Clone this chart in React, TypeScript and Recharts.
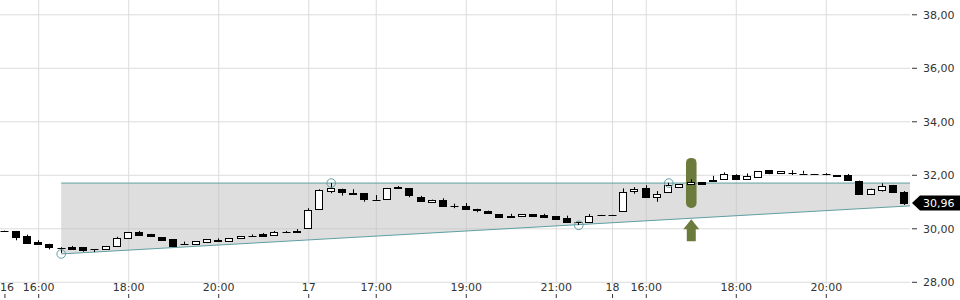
import {
  ComposedChart,
  Bar,
  Area,
  XAxis,
  YAxis,
  CartesianGrid,
  ReferenceArea,
  ReferenceDot,
} from 'recharts';

// 15-minute candles, one per slot (slot 0 = first visible candle)
const opens = [
  29.92, 29.92, 29.74, 29.52, 29.43, 29.27, 29.32, 29.31, 29.23, 29.23,
  29.35, 29.64, 29.88, 29.8, 29.68, 29.61, 29.44, 29.44, 29.52, 29.59,
  29.56, 29.64, 29.73, 29.79, 29.78, 29.88, 29.93, 30.02, 30.73, 31.4,
  31.49, 31.33, 31.33, 31.09, 31.1, 31.56, 31.51, 31.19, 30.99, 31.07,
  30.85, 30.86, 30.75, 30.68, 30.54, 30.49, 30.47, 30.55, 30.52, 30.48,
  30.39, 30.24, 30.25, 30.52, 30.52, 30.65, 31.4, 31.51, 31.2, 31.36,
  31.56, 31.66, 31.74, 31.83, 31.85, 32.0, 31.85, 31.93, 32.19, 32.09,
  32.09, 32.06, 32.04, 32.04, 32.01, 32.01, 31.8, 31.29, 31.45, 31.64,
  31.38,
];
const highs = [
  29.93, 29.92, 29.78, 29.57, 29.44, 29.31, 29.36, 29.32, 29.24, 29.36,
  29.7, 29.88, 29.92, 29.81, 29.69, 29.61, 29.52, 29.53, 29.61, 29.64,
  29.64, 29.73, 29.79, 29.84, 29.92, 29.92, 29.99, 30.77, 31.48, 31.71,
  31.5, 31.48, 31.33, 31.26, 31.51, 31.6, 31.52, 31.23, 31.09, 31.14,
  30.94, 30.96, 30.75, 30.68, 30.54, 30.56, 30.55, 30.55, 30.56, 30.48,
  30.49, 30.25, 30.55, 30.52, 30.52, 31.51, 31.56, 31.63, 31.41, 31.72,
  31.66, 31.85, 31.75, 31.98, 32.11, 32.04, 32.07, 32.16, 32.19, 32.15,
  32.19, 32.17, 32.05, 32.08, 32.01, 32.05, 31.8, 31.5, 31.7, 31.64,
  31.41,
];
const lows = [
  29.91, 29.57, 29.44, 29.4, 29.23, 29.1, 29.24, 29.14, 29.13, 29.22,
  29.35, 29.64, 29.76, 29.71, 29.56, 29.36, 29.43, 29.44, 29.52, 29.53,
  29.56, 29.64, 29.72, 29.73, 29.78, 29.87, 29.86, 30.02, 30.73, 31.33,
  31.24, 31.29, 31.01, 31.08, 31.1, 31.5, 31.18, 31.03, 30.99, 30.83,
  30.77, 30.73, 30.62, 30.58, 30.43, 30.43, 30.47, 30.47, 30.45, 30.36,
  30.25, 30.14, 30.25, 30.51, 30.51, 30.65, 31.31, 31.2, 31.01, 31.36,
  31.56, 31.66, 31.69, 31.76, 31.85, 31.87, 31.85, 31.93, 32.04, 32.09,
  32.01, 32.06, 32.03, 32.0, 31.96, 31.84, 31.29, 31.29, 31.39, 31.39,
  30.89,
];
const closes = [
  29.92, 29.68, 29.48, 29.42, 29.31, 29.27, 29.26, 29.21, 29.23, 29.35,
  29.64, 29.87, 29.77, 29.72, 29.57, 29.37, 29.44, 29.53, 29.61, 29.54,
  29.64, 29.73, 29.73, 29.74, 29.87, 29.88, 29.87, 30.69, 31.44, 31.54,
  31.36, 31.29, 31.1, 31.09, 31.51, 31.51, 31.26, 31.03, 31.09, 30.86,
  30.85, 30.73, 30.7, 30.58, 30.43, 30.43, 30.55, 30.47, 30.45, 30.36,
  30.25, 30.24, 30.49, 30.52, 30.52, 31.36, 31.49, 31.2, 31.3, 31.64,
  31.66, 31.76, 31.69, 31.78, 32.05, 31.87, 31.98, 32.16, 32.1, 32.15,
  32.09, 32.06, 32.04, 32.04, 31.96, 31.84, 31.29, 31.5, 31.61, 31.39,
  30.96,
];

const tickSlots = [0, 3, 11, 19, 27, 33, 41, 49, 54, 57, 65, 73];
const tickLabels = ['16', '16:00', '18:00', '20:00', '17', '17:00', '19:00', '21:00', '18', '16:00', '18:00', '20:00'];

const priceTicks = [28, 30, 32, 34, 36, 38];

// triangle pattern: its two boundary lines, from start slot to past the right edge
const triangleSlots = [5, 81];
const triangleLower = [29.06, 30.87];
const triangleUpper = [31.71, 31.71];

const pivotSlots = [5, 29, 51, 59];
const pivotPrices = [29.06, 31.71, 30.13, 31.71];

const signalSlot = 61;
const signalBand = [30.78, 32.65];
const signalArrowPrice = 29.95;

const X_DOMAIN = [-0.44, 80.44];
const Y_DOMAIN = [27.936, 38.553];

const TEAL = '#5f9fa3';
const OLIVE = '#6a7b3b';
const FONT = 'DejaVu Sans';

const rows: any[] = opens.map((o, i) => ({
  slot: i,
  open: o,
  high: highs[i],
  low: lows[i],
  close: closes[i],
}));
triangleSlots.forEach((s, k) => {
  let row = rows.find((r) => r.slot === s);
  if (!row) {
    row = { slot: s };
    rows.push(row);
  }
  row.tri = [triangleLower[k], triangleUpper[k]];
});

const fmt = (v: number) => v.toFixed(2).replace('.', ',');

function Candle(props: any) {
  const { x, y, width, height, payload } = props;
  if (!payload || payload.high == null) return null;
  const { open, high, low, close } = payload;
  const span = high - low;
  const toPx = (v: number) => (span > 0 ? y + ((high - v) / span) * height : y);
  const cx = Math.floor(x + width / 2) + 0.5;
  const wickTop = toPx(high);
  const wickBottom = toPx(low);
  const top = Math.round(toPx(Math.max(open, close))) + 0.5;
  const bottom = Math.round(toPx(Math.min(open, close))) + 0.5;
  const up = close > open;
  return (
    <g>
      <line x1={cx} x2={cx} y1={wickTop} y2={wickBottom} stroke="#000" strokeWidth={1} />
      {bottom - top < 1 ? (
        <line x1={cx - 4} x2={cx + 4} y1={top} y2={top} stroke="#000" strokeWidth={1} />
      ) : (
        <rect
          x={cx - 4}
          y={top}
          width={7}
          height={bottom - top}
          fill={up ? '#fff' : '#000'}
          stroke="#000"
          strokeWidth={1}
        />
      )}
    </g>
  );
}

function TimeTick(props: any) {
  const { x, y, payload } = props;
  const label = tickLabels[tickSlots.indexOf(payload.value)];
  // first label sits at the very edge; keep it inside the picture
  const tx = Math.max(x, 7);
  return (
    <g>
      <text x={tx} y={y + 7} textAnchor="middle" fontSize={11} fontFamily={FONT} fill="#333">
        {label}
      </text>
      <line x1={x} x2={x} y1={y + 10} y2={y + 14} stroke="#333" strokeWidth={1} />
    </g>
  );
}

function PriceTick(props: any) {
  const { x, y, payload } = props;
  return (
    <g>
      <line x1={x + 2} x2={x + 7} y1={y} y2={y} stroke="#333" strokeWidth={1} />
      <text x={x + 13} y={y + 4} fontSize={11} fontFamily={FONT} fill="#333">
        {fmt(payload.value)}
      </text>
    </g>
  );
}

function PriceTag(props: any) {
  const { cx, cy } = props;
  const last = closes[closes.length - 1];
  return (
    <g>
      <path
        d={`M${cx + 2},${cy} L${cx + 10},${cy - 7.5} L${cx + 50},${cy - 7.5} L${cx + 50},${cy + 7.5} L${cx + 10},${cy + 7.5} Z`}
        fill="#000"
      />
      <text x={cx + 13} y={cy + 4} fontSize={11} fontFamily={FONT} fill="#fff">
        {fmt(last)}
      </text>
    </g>
  );
}

function SignalArrow(props: any) {
  const { cx, cy } = props;
  return (
    <path
      d={`M${cx},${cy - 11} L${cx + 8},${cy - 1} L${cx + 4.5},${cy - 1} L${cx + 4.5},${cy + 11} L${cx - 4.5},${cy + 11} L${cx - 4.5},${cy - 1} L${cx - 8},${cy - 1} Z`}
      fill={OLIVE}
    />
  );
}

function SignalBand(props: any) {
  const { x, y, width, height } = props;
  return <rect x={x} y={y} width={width} height={height} rx={5} ry={5} fill={OLIVE} />;
}

export default function App() {
  return (
    <div style={{ position: 'absolute', left: 0, top: 0 }}>
      <ComposedChart width={960} height={300} data={rows} margin={{ top: 0, right: 0, bottom: 0, left: 0 }}>
        <CartesianGrid stroke="#dcdcdc" verticalValues={tickSlots.slice(1)} horizontalValues={priceTicks} />
        <XAxis
          dataKey="slot"
          type="number"
          domain={X_DOMAIN}
          allowDataOverflow
          ticks={tickSlots}
          interval={0}
          height={16}
          axisLine={false}
          tickLine={false}
          tickSize={0}
          tickMargin={0}
          tick={<TimeTick />}
        />
        <YAxis
          orientation="right"
          type="number"
          domain={Y_DOMAIN}
          allowDataOverflow
          ticks={priceTicks}
          interval={0}
          width={50}
          axisLine={false}
          tickLine={false}
          tickSize={0}
          tickMargin={0}
          tick={<PriceTick />}
        />
        <Area
          dataKey="tri"
          type="linear"
          connectNulls
          stroke={TEAL}
          strokeWidth={1}
          fill="#bdbdbd"
          fillOpacity={0.5}
          dot={false}
          activeDot={false}
          isAnimationActive={false}
          zIndex={100}
        />
        <ReferenceArea
          x1={signalSlot - 0.47}
          x2={signalSlot + 0.47}
          y1={signalBand[0]}
          y2={signalBand[1]}
          shape={<SignalBand />}
          zIndex={150}
        />
        <Bar
          dataKey={(d: any) => (d.high == null ? undefined : [d.low, d.high])}
          barSize={7}
          shape={<Candle />}
          isAnimationActive={false}
          zIndex={300}
        />
        {pivotSlots.map((s, i) => (
          <ReferenceDot
            key={`pivot-${i}`}
            x={s}
            y={pivotPrices[i]}
            r={4.3}
            fill="none"
            stroke={TEAL}
            strokeWidth={1}
            zIndex={600}
          />
        ))}
        <ReferenceDot x={signalSlot} y={signalArrowPrice} r={1} shape={<SignalArrow />} zIndex={600} />
        <ReferenceDot
          x={X_DOMAIN[1]}
          y={closes[closes.length - 1]}
          r={1}
          ifOverflow="visible"
          shape={<PriceTag />}
          zIndex={2000}
        />
      </ComposedChart>
    </div>
  );
}
